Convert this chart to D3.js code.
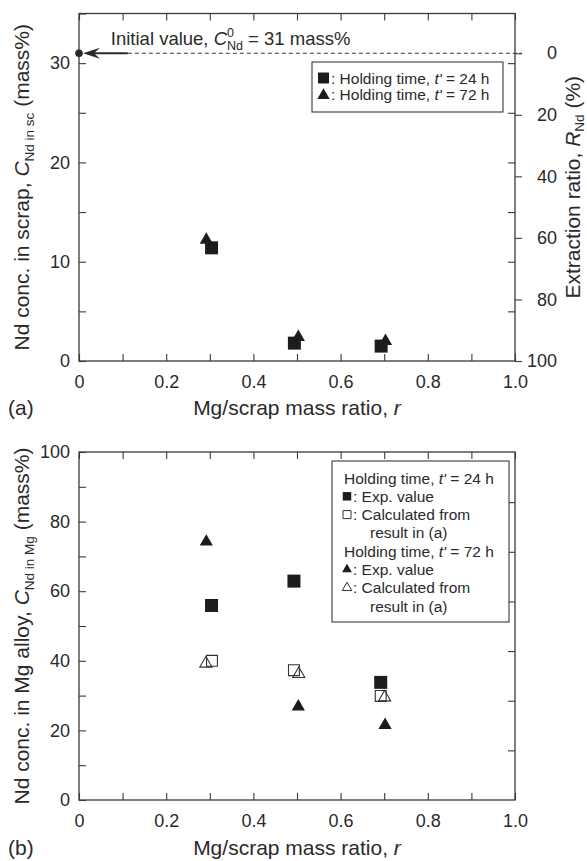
<!DOCTYPE html>
<html><head><meta charset="utf-8">
<script src="https://cdn.jsdelivr.net/npm/d3@7"></script>
<style>
body{margin:0;background:#fff}
svg{display:block;font-family:"Liberation Sans",Arial,Helvetica,sans-serif}
</style></head><body>
<svg id="chart" width="587" height="861"></svg>
<script>
// ---------- data ----------
const rTicks = [0, 0.1, 0.2, 0.3, 0.4, 0.5, 0.6, 0.7, 0.8, 0.9, 1.0];
const rLabels = [0, 0.2, 0.4, 0.6, 0.8, 1.0];
const topYTicks = [0, 5, 10, 15, 20, 25, 30, 35];
const topYLabels = [0, 10, 20, 30];
const extTicks = [0, 20, 40, 60, 80, 100];
const botYTicks = [0, 10, 20, 30, 40, 50, 60, 70, 80, 90, 100];
const botYLabels = [0, 20, 40, 60, 80, 100];
const botRightTicks = [5, 10, 15, 20, 25, 30];
const initialValue = 31;

// panel (a): Nd conc. in scrap
const topR24 = [0.304, 0.494, 0.693];
const topC24 = [11.4, 1.8, 1.5];
const topR72 = [0.292, 0.503, 0.703];
const topC72 = [12.2, 2.4, 2.0];

// panel (b): Nd conc. in Mg alloy
const botR24 = [0.304, 0.493, 0.692];
const botExp24 = [55.9, 62.9, 33.8];
const botCalcR24 = [0.305, 0.493, 0.692];
const botCalc24 = [40.0, 37.3, 29.9];
const botR72 = [0.292, 0.503, 0.702];
const botExp72 = [74.2, 26.8, 21.5];
const botCalcR72 = [0.291, 0.504, 0.701];
const botCalc72 = [39.2, 36.2, 29.5];

// ---------- layout ----------
const svg = d3.select('#chart');
const INK = '#2a2a2a', AX = '#3a3a3a';
const L = 79, R = 515;
const TOP = {y0: 361, y1: 13.5};
const BOT = {y0: 800, y1: 452};
const x = d3.scaleLinear().domain([0, 1]).range([L, R]);
const yA = d3.scaleLinear().domain([0, 35]).range([TOP.y0, TOP.y1]);
const yExt = d3.scaleLinear().domain([0, 100]).range([yA(initialValue), yA(0)]);
const yB = d3.scaleLinear().domain([0, 100]).range([BOT.y0, BOT.y1]);
const yBmirror = d3.scaleLinear().domain([0, 35]).range([BOT.y0, BOT.y0 - (TOP.y0 - TOP.y1)]);

const fmtR = d => d === 0 ? '0' : d.toFixed(1);
const TICK = 18, TITLE = 21;

function styleAxis(g) {
  g.select('.domain').remove();
  g.selectAll('.tick line').attr('stroke', AX).attr('stroke-width', 1.1);
  g.selectAll('.tick text').attr('fill', INK).attr('font-size', TICK).attr('font-family', null);
  g.attr('font-family', null);
}

function rich(sel, parts) {
  parts.forEach(p => {
    const t = sel.append('tspan').text(p.t);
    if (p.i) t.attr('font-style', 'italic');
    if (p.s) t.attr('font-size', p.s);
    if (p.dy != null) t.attr('dy', p.dy);
    if (p.dx != null) t.attr('dx', p.dx);
  });
}

function panel(y, yTicks, yLabels) {
  const g = svg.append('g');
  g.append('g').attr('transform', `translate(0,${y.range()[0]})`)
    .call(d3.axisBottom(x).tickValues(rTicks).tickSize(-7).tickSizeOuter(0).tickPadding(14)
      .tickFormat(d => rLabels.includes(d) ? fmtR(d) : ''))
    .call(styleAxis);
  g.append('g').attr('transform', `translate(0,${y.range()[1]})`)
    .call(d3.axisTop(x).tickValues(rTicks).tickSize(-7).tickSizeOuter(0).tickFormat(''))
    .call(styleAxis);
  g.append('g').attr('transform', `translate(${L},0)`)
    .call(d3.axisLeft(y).tickValues(yTicks).tickSize(-7).tickSizeOuter(0).tickPadding(9)
      .tickFormat(d => yLabels.includes(d) ? d : ''))
    .call(styleAxis);
  g.append('rect').attr('x', L).attr('y', y.range()[1])
    .attr('width', R - L).attr('height', y.range()[0] - y.range()[1])
    .attr('fill', 'none').attr('stroke', AX).attr('stroke-width', 1.3);
  return g;
}

// ---------- panel (a) ----------
const gA = panel(yA, topYTicks, topYLabels);
gA.append('g').attr('transform', `translate(${R},0)`)
  .call(d3.axisLeft(yA).tickValues([5, 10, 15, 20, 25, 30]).tickSize(7).tickSizeOuter(0).tickFormat(''))
  .call(styleAxis);
gA.append('g').attr('transform', `translate(${R},0)`)
  .call(d3.axisRight(yExt).tickValues(extTicks).tickSize(7).tickSizeOuter(0))
  .call(styleAxis)
  .call(g => g.selectAll('.tick text').attr('text-anchor', 'end').attr('x', 42));

// initial value annotation
const yi = yA(initialValue);
svg.append('line').attr('x1', x(0.112)).attr('x2', R + 7).attr('y1', yi).attr('y2', yi)
  .attr('stroke', AX).attr('stroke-width', 1.1).attr('stroke-dasharray', '4,3');
svg.append('line').attr('x1', x(0.112)).attr('x2', x(0) + 10).attr('y1', yi).attr('y2', yi)
  .attr('stroke', INK).attr('stroke-width', 2);
{
  const ax = x(0) + 4;
  svg.append('path')
    .attr('d', `M${ax},${yi} L${ax + 17},${yi - 5.5} L${ax + 11},${yi} L${ax + 17},${yi + 5.5} Z`)
    .attr('fill', INK);
}
svg.append('circle').attr('cx', x(0)).attr('cy', yi).attr('r', 3.8).attr('fill', INK);
{
  const t = svg.append('text').attr('x', x(0.073)).attr('y', yi - 8).attr('font-size', 18.5).attr('fill', INK);
  rich(t, [
    {t: 'Initial value, '},
    {t: 'C', i: true},
    {t: '0', s: 12.5, dy: -8},
    {t: 'Nd', s: 12.5, dy: 13, dx: -7},
    {t: ' = 31 mass%', dy: -5}
  ]);
}

// markers
const sym = (type, size) => d3.symbol().type(type).size(size)();
const sqBig = sym(d3.symbolSquare, 169);
const triBig = sym(d3.symbolTriangle, 76);
const sqOpen = sym(d3.symbolSquare, 118);
const triOpen = sym(d3.symbolTriangle, 64);

function plot(rs, vs, y, path, filled) {
  svg.append('g').selectAll('path').data(rs).join('path')
    .attr('d', path)
    .attr('transform', (d, i) => `translate(${x(d)},${y(vs[i])})`)
    .attr('fill', filled ? '#1c1c1c' : '#fff')
    .attr('fill-opacity', filled ? 1 : 0)
    .attr('stroke', filled ? 'none' : '#333')
    .attr('stroke-width', 1.1);
}
plot(topR24, topC24, yA, sqBig, true);
plot(topR72, topC72, yA, triBig, true);

// legend (a)
{
  const lg = svg.append('g');
  lg.append('rect').attr('x', 312).attr('y', 62).attr('width', 191).attr('height', 50)
    .attr('fill', '#fff').attr('stroke', AX).attr('stroke-width', 1.1);
  const rows = [{m: sym(d3.symbolSquare, 120), lab: '24 h'}, {m: sym(d3.symbolTriangle, 66), lab: '72 h'}];
  rows.forEach((r, i) => {
    const cy = 78 + i * 16.5;
    lg.append('path').attr('d', r.m).attr('transform', `translate(323.5,${cy + (i ? 1 : 0)})`).attr('fill', '#1c1c1c');
    const t = lg.append('text').attr('x', 331).attr('y', cy + 5.5).attr('font-size', 15.5).attr('fill', INK);
    rich(t, [{t: ': Holding time, '}, {t: "t'", i: true}, {t: ' = ' + r.lab}]);
  });
}

// axis titles (a)
svg.append('text').attr('x', x(0.5)).attr('y', 415).attr('text-anchor', 'middle')
  .attr('font-size', TITLE).attr('fill', INK)
  .call(t => rich(t, [{t: 'Mg/scrap mass ratio, '}, {t: 'r', i: true}]));
svg.append('text').attr('x', 8).attr('y', 415).attr('font-size', TITLE).attr('fill', INK).text('(a)');
svg.append('text').attr('transform', `translate(29,${(TOP.y0 + TOP.y1) / 2}) rotate(-90)`)
  .attr('text-anchor', 'middle').attr('font-size', TITLE).attr('fill', INK)
  .call(t => rich(t, [{t: 'Nd conc. in scrap, '}, {t: 'C', i: true}, {t: 'Nd in sc', s: 13.5, dy: 5}, {t: ' (mass%)', dy: -5}]));
svg.append('text').attr('transform', `translate(580,${(TOP.y0 + TOP.y1) / 2}) rotate(-90)`)
  .attr('text-anchor', 'middle').attr('font-size', TITLE).attr('fill', INK)
  .call(t => rich(t, [{t: 'Extraction ratio, '}, {t: 'R', i: true}, {t: 'Nd', s: 13.5, dy: 4}, {t: ' (%)', dy: -4}]));

// ---------- panel (b) ----------
const gB = panel(yB, botYTicks, botYLabels);
gB.append('g').attr('transform', `translate(${R},0)`)
  .call(d3.axisLeft(yBmirror).tickValues(botRightTicks).tickSize(7).tickSizeOuter(0).tickFormat(''))
  .call(styleAxis);

plot(botCalcR24, botCalc24, yB, sqOpen, false);
plot(botCalcR72, botCalc72, yB, triOpen, false);
plot(botR24, botExp24, yB, sqBig, true);
plot(botR72, botExp72, yB, triBig, true);

// legend (b)
{
  const lg = svg.append('g');
  lg.append('rect').attr('x', 332).attr('y', 461).attr('width', 177).attr('height', 161)
    .attr('fill', '#fff').attr('stroke', AX).attr('stroke-width', 1.1);
  const rows = [
    {parts: [{t: 'Holding time, '}, {t: "t'", i: true}, {t: ' = 24 h'}], x: 344},
    {m: sym(d3.symbolSquare, 72), f: true, parts: [{t: ': Exp. value'}]},
    {m: sym(d3.symbolSquare, 64), f: false, parts: [{t: ': Calculated from'}]},
    {parts: [{t: 'result in (a)'}], x: 370},
    {parts: [{t: 'Holding time, '}, {t: "t'", i: true}, {t: ' = 72 h'}], x: 344},
    {m: sym(d3.symbolTriangle, 42), f: true, parts: [{t: ': Exp. value'}]},
    {m: sym(d3.symbolTriangle, 40), f: false, parts: [{t: ': Calculated from'}]},
    {parts: [{t: 'result in (a)'}], x: 370}
  ];
  rows.forEach((r, i) => {
    const cy = 478 + i * 18.3;
    if (r.m) {
      lg.append('path').attr('d', r.m).attr('transform', `translate(347,${cy})`)
        .attr('fill', r.f ? '#1c1c1c' : '#fff').attr('stroke', r.f ? 'none' : '#333').attr('stroke-width', 1);
    }
    const t = lg.append('text').attr('x', r.x || 353).attr('y', cy + 5.5).attr('font-size', 15.5).attr('fill', INK)
      .attr('xml:space', 'preserve');
    rich(t, r.parts);
  });
}

svg.append('text').attr('x', x(0.5)).attr('y', 855).attr('text-anchor', 'middle')
  .attr('font-size', TITLE).attr('fill', INK)
  .call(t => rich(t, [{t: 'Mg/scrap mass ratio, '}, {t: 'r', i: true}]));
svg.append('text').attr('x', 8).attr('y', 855).attr('font-size', TITLE).attr('fill', INK).text('(b)');
svg.append('text').attr('transform', `translate(29,${(BOT.y0 + BOT.y1) / 2}) rotate(-90)`)
  .attr('text-anchor', 'middle').attr('font-size', TITLE).attr('fill', INK)
  .call(t => rich(t, [{t: 'Nd conc. in Mg alloy, '}, {t: 'C', i: true}, {t: 'Nd in Mg', s: 13.5, dy: 5}, {t: ' (mass%)', dy: -5}]));
</script>
</body></html>
